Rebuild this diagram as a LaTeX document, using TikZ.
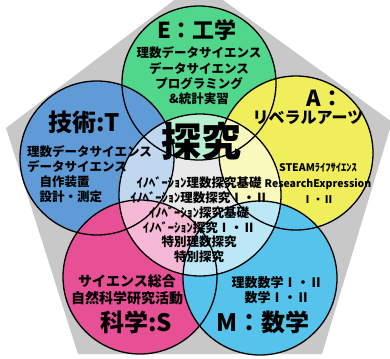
\documentclass[tikz,border=0pt]{standalone}
\usepackage{fontspec}
\setmainfont{Noto Sans CJK JP}
\definecolor{pentaGrey}{HTML}{C8C8C8}
\definecolor{engGreen}{HTML}{50D78C}
\definecolor{artYellow}{HTML}{F0EE5A}
\definecolor{tecBlue}{HTML}{5F9BD7}
\definecolor{sciPink}{HTML}{E85096}
\definecolor{matCyan}{HTML}{55C3EB}
\tikzset{
  ring/.style={draw=black, line width=1.3pt},
  title/.style={font=\fontsize{22}{24}\selectfont\bfseries, inner sep=0pt},
  body/.style={font=\fontsize{12.5}{15}\selectfont\bfseries, align=center, inner sep=0pt}
}
\begin{document}
\begin{tikzpicture}[x=1pt,y=-1pt]
\useasboundingbox (0,0) rectangle (390,358);
\clip (0,0) rectangle (390,358);

% grey pentagon behind the rings
\fill[pentaGrey] (198,-18) -- (392,122) -- (322,354) -- (78,354) -- (6,128) -- cycle;

\coordinate (cE) at (199,83);
\coordinate (cA) at (296,153);
\coordinate (cT) at (97,158);
\coordinate (cS) at (140,277);
\coordinate (cM) at (260,278);
\coordinate (cQ) at (200,195);

% white under the rings, so that multiply mixes only the ring colours
\foreach \c in {cE,cA,cT,cS,cM}
    \fill[white] (\c) circle (77pt);
\begin{scope}[transparency group, blend mode=multiply]
  \fill[engGreen]  (cE) circle (77pt);
  \fill[artYellow] (cA) circle (77pt);
  \fill[tecBlue]   (cT) circle (77pt);
  \fill[sciPink]   (cS) circle (77pt);
  \fill[matCyan]   (cM) circle (77pt);
\end{scope}
\fill[white, fill opacity=0.6] (cQ) circle (81pt);

\foreach \c in {cE,cA,cT,cS,cM}
    \draw[ring] (\c) circle (77pt);
\draw[ring] (cQ) circle (81pt);

% E
\node[title] (engT) at (197,30) {E：工学};
\node[body, font=\fontsize{12.5}{15.3}\selectfont\bfseries] (engB) at (199,76)
  {理数データサイエンス\\データサイエンス\\プログラミング\\\&統計実習};

% T
\node[title, font=\fontsize{24}{26}\selectfont\bfseries] (tecT) at (84,122) {技術:T};
\node[body, align=left, anchor=west] (tecB) at (27,174)
  {理数データサイエンス\\データサイエンス\\　自作装置\\　設計・測定};

% A
\node[title] (artT) at (325,98) {A：};
\node[inner sep=0pt, font=\fontsize{16}{18}\selectfont\bfseries] (artS) at (308,118) {リベラルアーツ};
\node[body, font=\fontsize{10.5}{16}\selectfont\bfseries] (artB) at (318,183)
  {STEAMﾗｲﾌｻｲｴﾝｽ\\ResearchExpression\\Ⅰ・Ⅱ};

% inquiry
\node[inner sep=0pt, font=\fontsize{40}{42}\selectfont\bfseries] (inqT) at (201,141) {探究};
\node[body, font=\fontsize{12.5}{14.8}\selectfont\bfseries] (inqB) at (199,220)
  {ｲﾉﾍﾞｰｼｮﾝ理数探究基礎\\ｲﾉﾍﾞｰｼｮﾝ理数探究Ⅰ・Ⅱ\\ｲﾉﾍﾞｰｼｮﾝ探究基礎\\ｲﾉﾍﾞｰｼｮﾝ探究Ⅰ・Ⅱ\\特別理数探究\\特別探究};

% S
\node[body, font=\fontsize{14}{17}\selectfont\bfseries] (sciB) at (127,290)
  {サイエンス総合\\自然科学研究活動};
\node[title, font=\fontsize{24}{26}\selectfont\bfseries] (sciT) at (136,322) {科学:S};

% M
\node[body, font=\fontsize{13}{14.5}\selectfont\bfseries] (matB) at (277,290)
  {理数数学Ⅰ・Ⅱ\\数学Ⅰ・Ⅱ};
\node[title, font=\fontsize{24}{26}\selectfont\bfseries] (matT) at (263,322) {M：数学};
\end{tikzpicture}
\end{document}
